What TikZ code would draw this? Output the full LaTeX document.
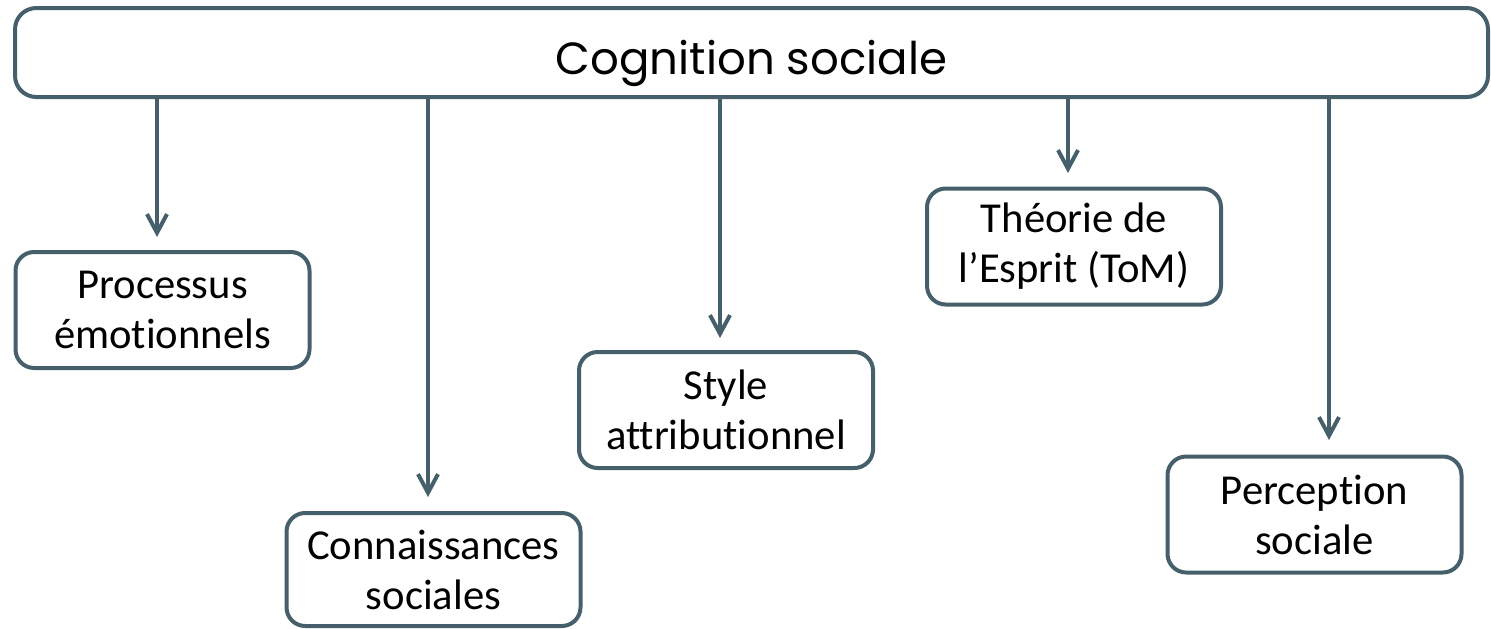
\documentclass[tikz,border=0pt]{standalone}
\usepackage{fontspec}
\setmainfont{Carlito}[Ligatures=NoCommon]
\newfontfamily\titlefont{Poppins}
\usetikzlibrary{arrows.meta}
\definecolor{slate}{HTML}{45606B}
\tikzset{every picture/.style={line width=3pt}}

\begin{document}
\begin{tikzpicture}[x=0.75pt,y=0.75pt,yscale=-1,xscale=1,
	box/.style={draw=slate,fill=white,rounded corners=14pt,align=center,inner sep=0pt,
		minimum width=220.5pt,minimum height=87pt,font=\fontsize{32}{37.5}\selectfont},
	arr/.style={draw=slate,-{Straight Barb[length=14pt,width=15pt]}}]
	\useasboundingbox (0,0) rectangle (1491,628);

	% top box
	\node [box,minimum width=1104.75pt,minimum height=66.75pt,rounded corners=16pt] (cog) at (751.5,52.5) {};
	\node [font=\titlefont\fontsize{33.8}{40}\selectfont,inner sep=0pt,anchor=base] (cogtxt) at (751.5,74.5) {Cognition sociale};

	% sub boxes
	\node [box] (emo) at (162.5,310) {Processus\\émotionnels};
	\node [box,minimum height=84.75pt] (conn) at (433.5,569.5) {Connaissances\\sociales};
	\node [box] (attr) at (726,410) {Style\\attributionnel};
	\node [box] (tom) at (1074,246.5) {Théorie de\\l’Esprit (ToM)};
	\node [box] (perc) at (1314.5,514.5) {Perception\\sociale};

	% arrow ends
	\coordinate (tEmo) at (157,237);
	\coordinate (tConn) at (428,497);
	\coordinate (tAttr) at (720,338);
	\coordinate (tTom) at (1068,173);
	\coordinate (tPerc) at (1329,440);

	\draw [arr] (cog.south -| tEmo) -- (tEmo);
	\draw [arr] (cog.south -| tConn) -- (tConn);
	\draw [arr] (cog.south -| tAttr) -- (tAttr);
	\draw [arr] (cog.south -| tTom) -- (tTom);
	\draw [arr] (cog.south -| tPerc) -- (tPerc);

\end{tikzpicture}
\end{document}
